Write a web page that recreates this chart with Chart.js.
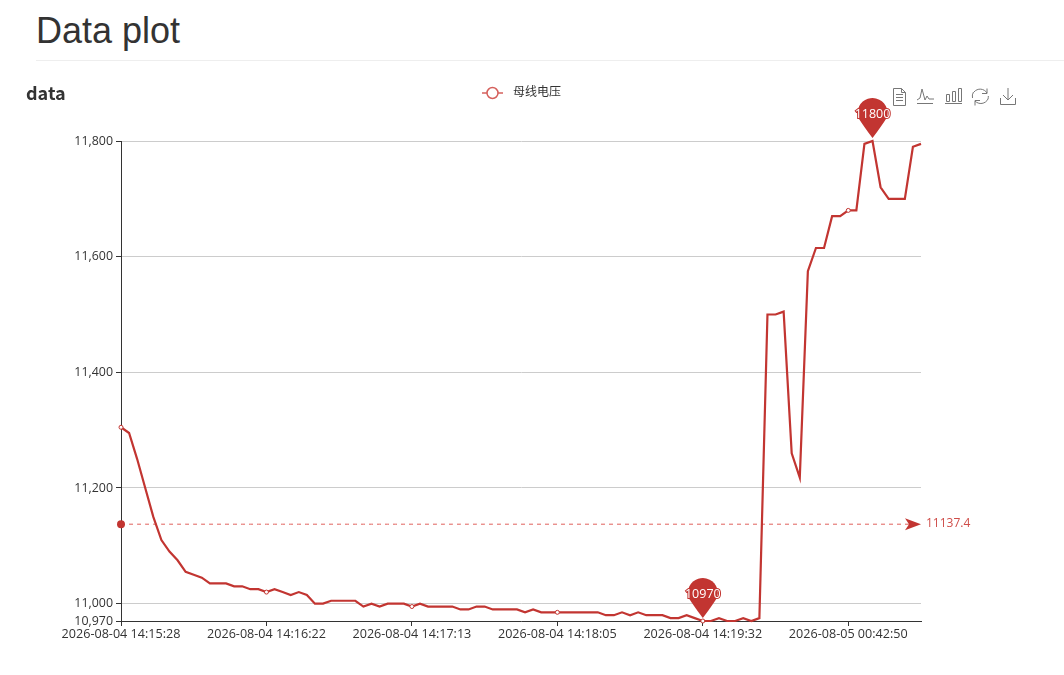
<!DOCTYPE html>
<html>
<head>
<meta charset="utf-8">
<title>Data plot</title>
<script src="https://cdn.jsdelivr.net/npm/chart.js@4"></script>
<style>
    html, body { margin: 0; padding: 0; background: #fff; width: 1064px; height: 675px; overflow: hidden; }
    #pageTitle { position: absolute; left: 36px; top: 11px; margin: 0; font: 500 36px/40px "Liberation Sans", sans-serif; color: #333; }
    #pageRule { position: absolute; left: 36px; right: 0; top: 60px; height: 1px; background: #eee; }
    #chartName { position: absolute; left: 26px; top: 80px; font: bold 18px/24px "Noto Sans CJK SC", "Noto Sans", sans-serif; color: #333; }
    #myChart { position: absolute; left: 0; top: 0; }
    #toolbox { position: absolute; left: 890px; top: 85px; }
</style>
</head>
<body>
<h1 id="pageTitle">Data plot</h1>
<div id="pageRule"></div>
<canvas id="myChart" width="1064" height="675"></canvas>
<div id="chartName">data</div>
<svg id="toolbox" width="130" height="22" fill="none" stroke="#777" stroke-width="1">
    <path d="M3.5 3.5h8l4 4v13h-12z M11.5 3.5v4h4 M6 9.5h7 M6 12.5h7 M6 15.5h7"/>
    <path d="M27 15l3-2 2-9 3 11 2-4 2 3h5 M27 18.500h16"/>
    <path d="M56.5 9.500h3v7h-3z M62.5 6.500h3v10h-3z M68.5 3.5h3v13h-3z M55 18.500h17"/>
    <path d="M84 7a8 8 0 0 1 13 1 M98 14a8 8 0 0 1-13 2 M97 3.5v5h-5 M85 20.5v-5h5 M82.5 13a8 8 0 0 1 1-6 M98 14a8 8 0 0 0 .3-3"/>
    <path d="M118 3v12 M113 10l5 5 5-5 M110.500 13v6.500h15v-6.500"/>
</svg>

<script>
// ===== Data =====
const seriesName = '母线电压';
const xTickLabels = [
    '2026-08-04 14:15:28',
    '2026-08-04 14:16:22',
    '2026-08-04 14:17:13',
    '2026-08-04 14:18:05',
    '2026-08-04 14:19:32',
    '2026-08-05 00:42:50'
];
const yTicks = [10970, 11000, 11200, 11400, 11600, 11800];
const voltage = [
    11305, 11295, 11250, 11200, 11150, 11110, 11090, 11075, 11055, 11050,
    11045, 11035, 11035, 11035, 11030, 11030, 11025, 11025, 11020, 11025,
    11020, 11015, 11020, 11015, 11000, 11000, 11005, 11005, 11005, 11005,
    10995, 11000, 10995, 11000, 11000, 11000, 10995, 11000, 10995, 10995,
    10995, 10995, 10990, 10990, 10995, 10995, 10990, 10990, 10990, 10990,
    10985, 10990, 10985, 10985, 10985, 10985, 10985, 10985, 10985, 10985,
    10980, 10980, 10985, 10980, 10985, 10980, 10980, 10980, 10975, 10975,
    10980, 10975, 10970, 10970, 10975, 10970, 10970, 10975, 10970, 10975,
    11500, 11500, 11505, 11260, 11218, 11575, 11615, 11615, 11670, 11670,
    11680, 11680, 11795, 11800, 11720, 11700, 11700, 11700, 11790, 11795
];
const averageValue = 11137.4;
const tickStep = 18;

const red = '#c23531';
const categories = voltage.map((v, i) => i % tickStep === 0 ? xTickLabels[i / tickStep] : '');
const averageLine = voltage.map(() => averageValue);
const axisFont = { family: '"Open Sans", "Noto Sans CJK SC", sans-serif', size: 12 };

// legend symbol: line with a hollow circle
function legendSymbol() {
    const c = document.createElement('canvas');
    c.width = 25;
    c.height = 14;
    const g = c.getContext('2d');
    g.strokeStyle = '#d5605c';
    g.lineWidth = 1.5;
    g.beginPath();
    g.moveTo(0, 7);
    g.lineTo(21, 7);
    g.stroke();
    g.beginPath();
    g.arc(10.5, 7, 5.5, 0, Math.PI * 2);
    g.fillStyle = '#fff';
    g.fill();
    g.stroke();
    return c;
}

// min / max pins and the arrow + label of the average line
const markPlugin = {
    id: 'marks',
    // extra room under the legend
    beforeLayout(chart) {
        const legend = chart.legend;
        if (!legend.baseFit) {
            legend.baseFit = legend.fit;
            legend.fit = function() {
                this.baseFit();
                this.height += 32;
            };
        }
    },
    // legend sits over the middle of the plot + right margin, not the plot box
    afterLayout(chart) {
        chart.legend.left += 61;
        chart.legend.right += 61;
    },
    afterDatasetsDraw(chart) {
        const ctx = chart.ctx;
        const xs = chart.scales.x;
        const ys = chart.scales.y;

        const drawPin = function(index) {
            const tipX = xs.getPixelForValue(index);
            const tipY = ys.getPixelForValue(voltage[index]) - 3;
            const r = 15;
            const cy = tipY - 25;
            ctx.save();
            ctx.fillStyle = red;
            ctx.beginPath();
            ctx.arc(tipX, cy, r, Math.PI * 0.9, Math.PI * 0.1);
            ctx.quadraticCurveTo(tipX + 9, cy + 13, tipX, tipY);
            ctx.quadraticCurveTo(tipX - 9, cy + 13, tipX - r * Math.cos(Math.PI * 0.1), cy + r * Math.sin(Math.PI * 0.1));
            ctx.closePath();
            ctx.fill();
            ctx.font = '12.5px ' + axisFont.family;
            ctx.textAlign = 'center';
            ctx.textBaseline = 'middle';
            ctx.lineWidth = 2;
            ctx.strokeStyle = red;
            ctx.strokeText(voltage[index], tipX, cy + 1);
            ctx.fillStyle = '#fff';
            ctx.fillText(voltage[index], tipX, cy + 1);
            ctx.restore();
        };
        drawPin(voltage.indexOf(Math.max(...voltage)));
        drawPin(voltage.indexOf(Math.min(...voltage)));

        const ax = xs.getPixelForValue(voltage.length - 1);
        const ay = ys.getPixelForValue(averageValue);
        ctx.save();
        ctx.fillStyle = red;
        ctx.beginPath();
        ctx.moveTo(ax, ay);
        ctx.lineTo(ax - 16, ay - 6);
        ctx.lineTo(ax - 12, ay);
        ctx.lineTo(ax - 16, ay + 6);
        ctx.closePath();
        ctx.fill();
        ctx.beginPath();
        ctx.arc(xs.getPixelForValue(0), ay, 4, 0, Math.PI * 2);
        ctx.fill();
        ctx.fillStyle = '#cf4d49';
        ctx.font = '12px ' + axisFont.family;
        ctx.textAlign = 'left';
        ctx.textBaseline = 'middle';
        ctx.fillText(averageValue, ax + 5, ay - 1);
        ctx.restore();
    }
};

const ctx = document.getElementById('myChart').getContext('2d');
const myChart = new Chart(ctx, {
    type: 'line',
    plugins: [markPlugin],
    data: {
        labels: categories,
        datasets: [{
            label: seriesName,
            data: voltage,
            borderColor: red,
            backgroundColor: '#fff',
            borderWidth: 2.2,
            tension: 0,
            clip: false,
            pointRadius: (c) => c.dataIndex % tickStep === 0 ? 2 : 0,
            pointBorderWidth: 1,
            pointBackgroundColor: '#fff',
            pointBorderColor: red
        }, {
            label: 'average',
            data: averageLine,
            borderColor: '#e0605c',
            borderWidth: 1,
            borderDash: [4, 4],
            pointRadius: 0,
            tension: 0
        }]
    },
    options: {
        responsive: false,
        animation: false,
        layout: { padding: { left: 0, right: 143, top: 10, bottom: 24 } },
        plugins: {
            tooltip: { enabled: false },
            legend: {
                position: 'top',
                labels: {
                    filter: (item) => item.datasetIndex === 0,
                    generateLabels: () => [{
                        text: seriesName,
                        datasetIndex: 0,
                        pointStyle: legendSymbol(),
                        fontColor: '#333',
                        lineWidth: 0
                    }],
                    usePointStyle: true,
                    pointStyleWidth: 25,
                    padding: 77,
                    color: '#333',
                    font: axisFont
                }
            }
        },
        scales: {
            x: {
                type: 'category',
                offset: false,
                afterFit: (s) => { s.height = 30; },
                afterBuildTicks: (s) => { s.ticks = s.ticks.filter((t) => t.value % tickStep === 0); },
                border: { color: '#333', width: 1 },
                grid: { drawOnChartArea: false, drawTicks: true, tickLength: 5, tickColor: '#333' },
                ticks: {
                    autoSkip: false,
                    maxRotation: 0,
                    minRotation: 0,
                    padding: 1,
                    color: '#333',
                    font: { family: axisFont.family, size: 12.6 },
                    callback: function(value) { return this.getLabelForValue(value); }
                }
            },
            y: {
                min: yTicks[0],
                max: yTicks[yTicks.length - 1],
                afterFit: (s) => { s.width = 121; },
                afterBuildTicks: (s) => { s.ticks = yTicks.map((v) => ({ value: v })); },
                border: { color: '#333', width: 1 },
                grid: { color: '#ccc', tickColor: '#333', tickLength: 5, lineWidth: 1 },
                ticks: {
                    autoSkip: false,
                    padding: 3,
                    color: '#333',
                    font: { family: axisFont.family, size: 12.4 },
                    callback: (v) => v.toLocaleString('en-US')
                }
            }
        }
    }
});
</script>
</body>
</html>
